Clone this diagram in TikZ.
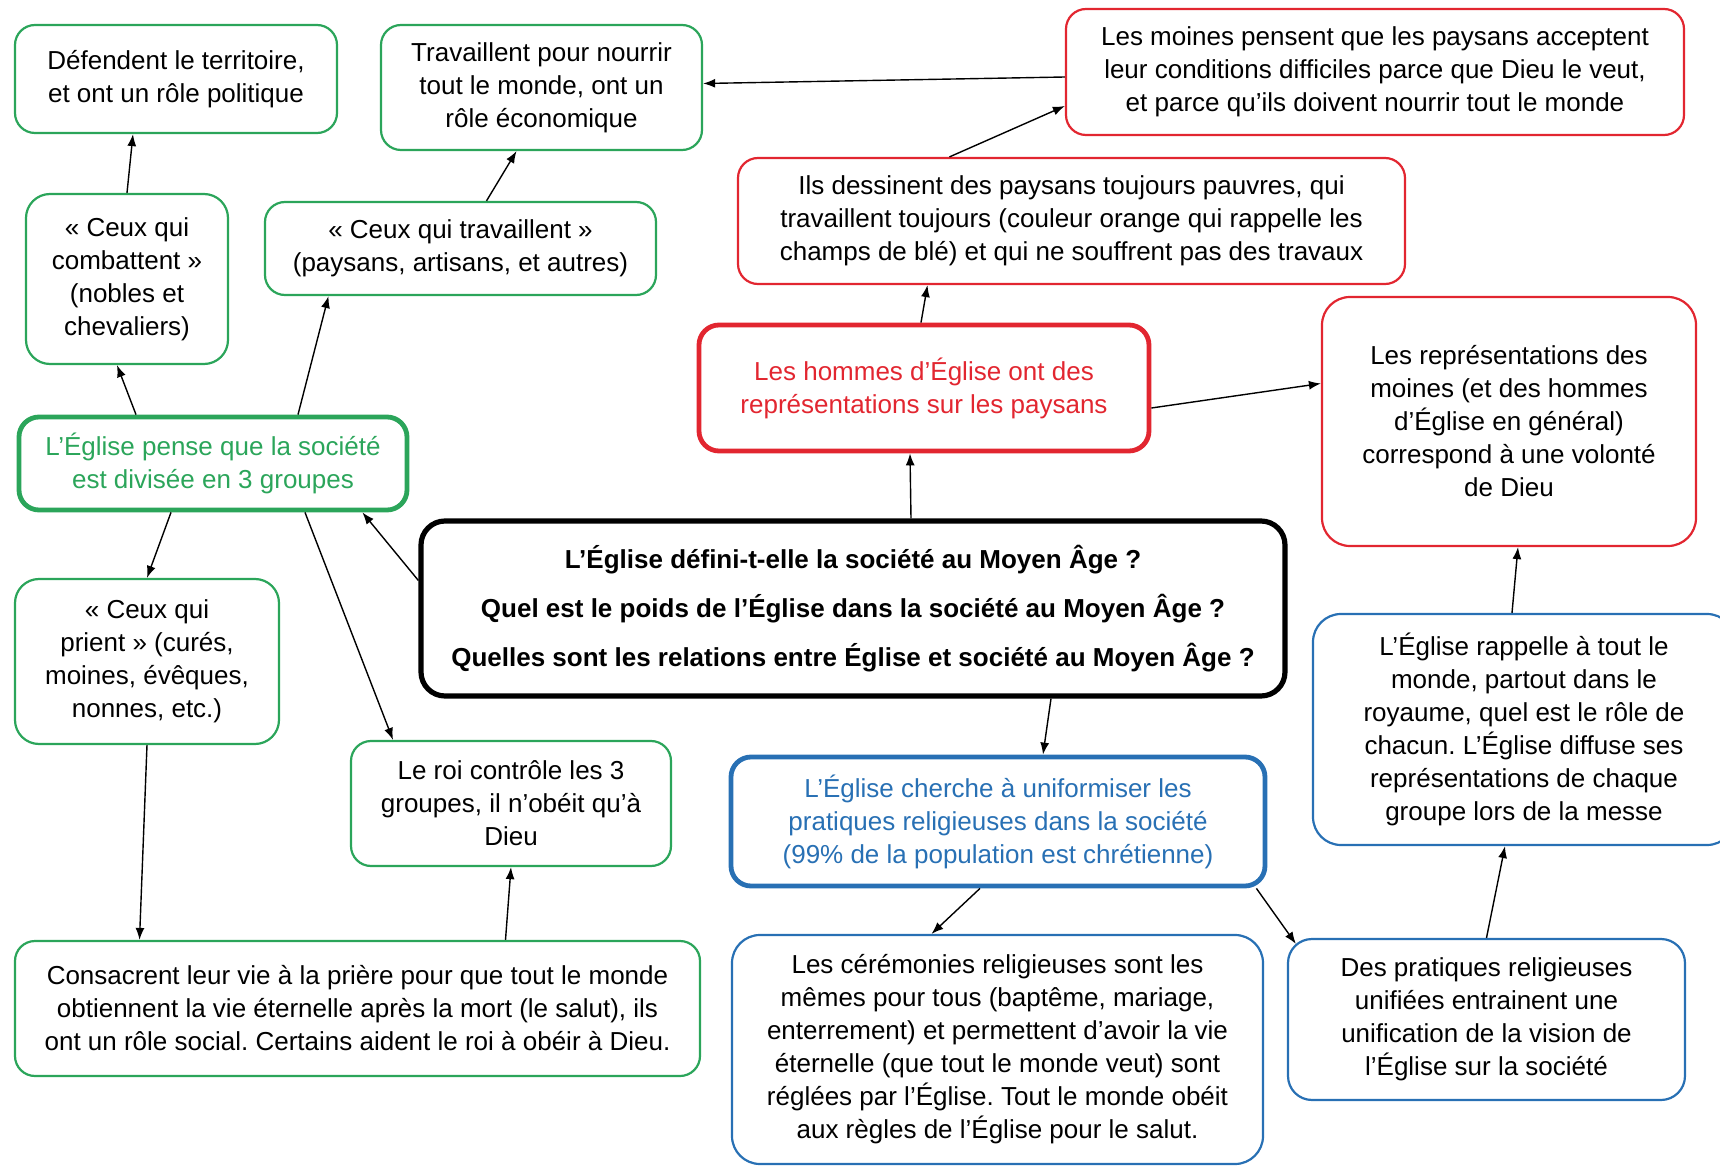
\documentclass[tikz,border=0pt]{standalone}
\usepackage{fontspec}
\setmainfont{Liberation Sans}
\frenchspacing
\usepackage{tikz}
\usetikzlibrary{arrows,arrows.meta,positioning,calc}

\definecolor{vert}{RGB}{43,165,90}
\definecolor{rouge}{RGB}{226,38,48}
\definecolor{bleu}{RGB}{40,112,180}

\begin{document}
\begin{tikzpicture}[
    x=0.5pt, y=-0.5pt, >={Latex[length=6pt,width=4.5pt]},
    box/.style={draw, rounded corners=10pt, align=center, line width=1.1pt,
                font=\fontsize{13pt}{16.5pt}\selectfont, inner sep=0pt},
    vbox/.style={box, draw=vert},
    rbox/.style={box, draw=rouge},
    bbox/.style={box, draw=bleu},
    gras/.style={line width=2.4pt},
    fl/.style={->, line width=0.7pt}
]
    \useasboundingbox (0,0) rectangle (1720,1166);

    % les trois groupes
    \node[vbox, minimum width=161pt, minimum height=54pt] (defend) at (176,79)
        {Défendent le territoire,\\ et ont un rôle politique};
    \node[vbox, minimum width=160.5pt, minimum height=62.5pt] (travail) at (541.5,87.5)
        {Travaillent pour nourrir\\ tout le monde, ont un\\ rôle économique};
    \node[vbox, minimum width=101pt, minimum height=85pt, rounded corners=12pt] (combat) at (127,279)
        {« Ceux qui\\ combattent »\\ (nobles et\\ chevaliers)};
    \node[vbox, minimum width=195.5pt, minimum height=46.5pt] (ceuxtrav) at (460.5,248.5)
        {« Ceux qui travaillent »\\ (paysans, artisans, et autres)};
    \node[vbox, gras, text=vert, minimum width=194pt, minimum height=46.5pt] (troisgr) at (213,463.5)
        {L’Église pense que la société\\ est divisée en 3 groupes};
    \node[vbox, minimum width=132pt, minimum height=82.5pt, rounded corners=12pt] (prient) at (147,661.5)
        {« Ceux qui\\ prient » (curés,\\ moines, évêques,\\ nonnes, etc.)};
    \node[vbox, minimum width=160pt, minimum height=62.5pt] (roi) at (511,803.5)
        {Le roi contrôle les 3\\ groupes, il n’obéit qu’à\\ Dieu};
    \node[vbox, minimum width=342.5pt, minimum height=67.5pt] (consacre) at (357.5,1008.5)
        {Consacrent leur vie à la prière pour que tout le monde\\ obtiennent la vie éternelle après la mort (le salut), ils\\ ont un rôle social. Certains aident le roi à obéir à Dieu.};

    % question centrale
    \node[box, gras, line width=2.6pt, rounded corners=12pt, minimum width=432pt, minimum height=87.5pt,
          font=\fontsize{13pt}{24.5pt}\selectfont\bfseries] (question) at (853,608.5)
        {L’Église défini-t-elle la société au Moyen Âge ?\\
         Quel est le poids de l’Église dans la société au Moyen Âge ?\\
         Quelles sont les relations entre Église et société au Moyen Âge ?};

    % representations
    \node[rbox, minimum width=309pt, minimum height=63pt] (moines) at (1375,72)
        {Les moines pensent que les paysans acceptent\\ leur conditions difficiles parce que Dieu le veut,\\ et parce qu’ils doivent nourrir tout le monde};
    \node[rbox, minimum width=333.5pt, minimum height=63pt] (dessin) at (1071.5,221)
        {Ils dessinent des paysans toujours pauvres, qui\\ travaillent toujours (couleur orange qui rappelle les\\ champs de blé) et qui ne souffrent pas des travaux};
    \node[rbox, gras, text=rouge, minimum width=225pt, minimum height=63pt] (hommes) at (924,388)
        {Les hommes d’Église ont des\\ représentations sur les paysans};
    \node[rbox, minimum width=187pt, minimum height=124.5pt, rounded corners=14pt] (volonte) at (1509,421.5)
        {Les représentations des\\ moines (et des hommes\\ d’Église en général)\\ correspond à une volonté\\ de Dieu};

    % pratiques religieuses
    \node[bbox, gras, text=bleu, minimum width=267pt, minimum height=64.5pt] (uniforme) at (998,821.5)
        {L’Église cherche à uniformiser les\\ pratiques religieuses dans la société\\ (99\% de la population est chrétienne)};
    \node[bbox, minimum width=265.5pt, minimum height=114.5pt, rounded corners=14pt] (ceremonie) at (997.5,1049.5)
        {Les cérémonies religieuses sont les\\ mêmes pour tous (baptême, mariage,\\ enterrement) et permettent d’avoir la vie\\ éternelle (que tout le monde veut) sont\\ réglées par l’Église. Tout le monde obéit\\ aux règles de l’Église pour le salut.};
    \node[bbox, minimum width=198.5pt, minimum height=80.5pt, rounded corners=12pt] (unifiees) at (1486.5,1019.5)
        {Des pratiques religieuses\\ unifiées entrainent une\\ unification de la vision de\\ l’Église sur la société};
    \node[bbox, minimum width=211pt, minimum height=115.5pt, rounded corners=14pt] (rappelle) at (1524,729.5)
        {L’Église rappelle à tout le\\ monde, partout dans le\\ royaume, quel est le rôle de\\ chacun. L’Église diffuse ses\\ représentations de chaque\\ groupe lors de la messe};

    \draw[fl] (question.west) ++(0,-28) -- ([xshift=-23.5pt]troisgr.south east);
    \draw[fl] ([xshift=-38.5pt]troisgr.north) -- ([xshift=-5pt]combat.south);
    \draw[fl] ([xshift=42.5pt]troisgr.north) -- ([xshift=-66pt]ceuxtrav.south);
    \draw[fl] ([xshift=-21pt]troisgr.south) -- (prient.north);
    \draw[fl] ([xshift=46pt]troisgr.south) -- ([xshift=-59pt]roi.north);
    \draw[fl] (combat.north) -- ([xshift=-21.5pt]defend.south);
    \draw[fl] ([xshift=13pt]ceuxtrav.north) -- ([xshift=-12.5pt]travail.north |- travail.south);
    \draw[fl] (prient.south) -- ([xshift=-109pt]consacre.north);
    \draw[fl] ([xshift=74pt]consacre.north) -- (roi.south);

    \draw[fl] ([xshift=29pt]question.north) -- ([xshift=-7pt]hommes.south);
    \draw[fl] ([xshift=-1.5pt]hommes.north) -- ([xshift=-72pt]dessin.south);
    \draw[fl] ([xshift=-61pt]dessin.north) -- ([yshift=-17pt]moines.west);
    \draw[fl] ([yshift=-2.5pt]moines.west) -- ([yshift=2pt]travail.east);
    \draw[fl] ([yshift=-10pt]hommes.east) -- ([yshift=19pt]volonte.west);

    \draw[fl] ([xshift=99pt]question.south) -- ([xshift=22.5pt]uniforme.north);
    \draw[fl] ([xshift=-9pt]uniforme.south) -- ([xshift=-33pt]ceremonie.north);
    \draw[fl] ([xshift=-5.5pt]uniforme.south east) -- ([xshift=4.5pt,yshift=-3pt]unifiees.north west);
    \draw[fl] (unifiees.north) -- ([xshift=-9.5pt]rappelle.south);
    \draw[fl] ([xshift=-6pt]rappelle.north) -- ([xshift=4.5pt]volonte.south);
\end{tikzpicture}
\end{document}
